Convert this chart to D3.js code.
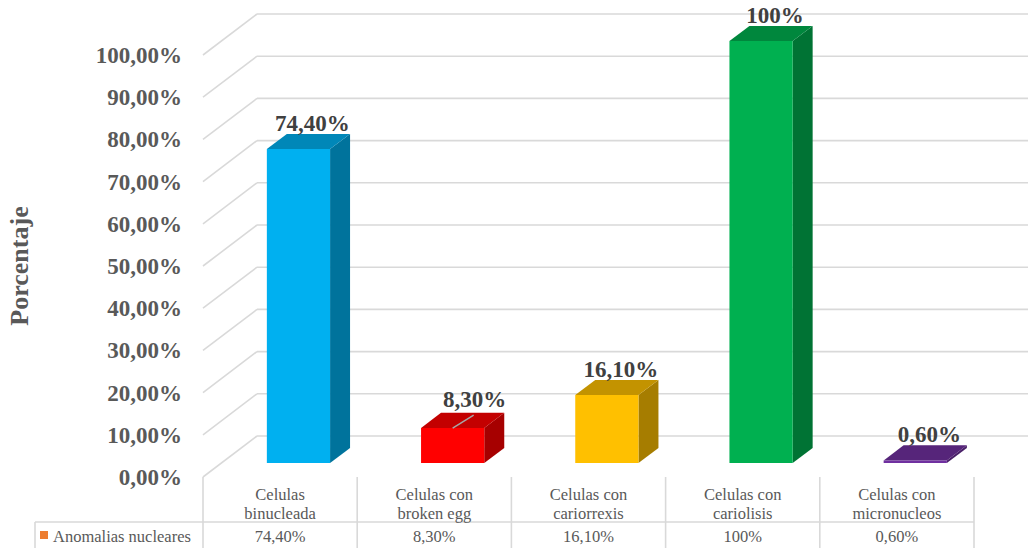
<!DOCTYPE html>
<html>
<head>
<meta charset="utf-8">
<script src="https://cdn.jsdelivr.net/npm/d3@7"></script>
<style>
  html, body { margin: 0; padding: 0; background: #ffffff; }
  svg { display: block; }
  text { font-family: "Liberation Serif", "Times New Roman", serif; }
</style>
</head>
<body>
<svg id="chart" width="1029" height="548"></svg>
<script>
// ---- data ----
const categories = [
  ["Celulas", "binucleada"],
  ["Celulas con", "broken egg"],
  ["Celulas con", "cariorrexis"],
  ["Celulas con", "cariolisis"],
  ["Celulas con", "micronucleos"]
];
const values = [0.744, 0.083, 0.161, 1.0, 0.006];
const valueLabels = ["74,40%", "8,30%", "16,10%", "100%", "0,60%"];
const barColors = ["#00B0F0", "#FF0000", "#FFC000", "#00B050", "#7030A0"];
const seriesName = "Anomalias nucleares";
const seriesColor = "#ED7D31";
const yTicks = [0, 0.1, 0.2, 0.3, 0.4, 0.5, 0.6, 0.7, 0.8, 0.9, 1.0];
const yTitle = "Porcentaje";

// ---- layout ----
const svg = d3.select("#chart");
const x0 = 203, x1 = 974;          // front edge of the floor
const floorY = 477;                // front baseline
const depth = { dx: 54, dy: -41 }; // full depth of the box
const barDepth0 = 0.34, barDepth1 = 0.71;

const esLocale = d3.formatLocale({ decimal: ",", thousands: ".", grouping: [3], currency: ["", " €"] });
const pct = esLocale.format(".2%");

const x = d3.scaleBand()
  .domain(d3.range(categories.length))
  .range([x0, x1])
  .paddingInner(0.59)
  .paddingOuter(0.295);

const h = d3.scaleLinear().domain([0, 1]).range([0, 422]);

// project (px, value, depth fraction) -> screen coords
function P(px, v, t) {
  return [px + depth.dx * t, floorY - h(v) + depth.dy * t];
}

const grid = "#d9d9d9";

// ---- walls: gridlines on back wall and side wall ----
const gl = svg.append("g");
yTicks.forEach(v => {
  const a = P(x0, v, 0), b = P(x0, v, 1), c = P(x1, v, 1);
  gl.append("line").attr("x1", a[0]).attr("y1", a[1]).attr("x2", b[0]).attr("y2", b[1])
    .attr("stroke", grid).attr("stroke-width", 1.6);
  gl.append("line").attr("x1", b[0]).attr("y1", b[1]).attr("x2", c[0]).attr("y2", c[1])
    .attr("stroke", grid).attr("stroke-width", 1.6);
});

// ---- y axis labels ----
svg.append("g").selectAll("text").data(yTicks).join("text")
  .attr("x", 182)
  .attr("y", d => P(x0, d, 0)[1] + 8)
  .attr("text-anchor", "end")
  .attr("font-size", 23)
  .attr("font-weight", "bold")
  .attr("fill", "#595959")
  .text(d => pct(d));

svg.append("text")
  .attr("transform", "translate(28,266) rotate(-90)")
  .attr("text-anchor", "middle")
  .attr("font-size", 26)
  .attr("font-weight", "bold")
  .attr("fill", "#595959")
  .text(yTitle);

// ---- 3D bars ----
const poly = pts => "M" + pts.map(p => p.join(",")).join("L") + "Z";
const bars = svg.append("g");
values.forEach((v, i) => {
  const L = x(i), R = x(i) + x.bandwidth();
  const col = d3.rgb(barColors[i]);
  const top = col.darker(0.75), side = col.darker(1.2);
  // side face
  bars.append("path").attr("d", poly([P(R, 0, barDepth0), P(R, 0, barDepth1), P(R, v, barDepth1), P(R, v, barDepth0)]))
    .attr("fill", side);
  // top face
  bars.append("path").attr("d", poly([P(L, v, barDepth0), P(R, v, barDepth0), P(R, v, barDepth1), P(L, v, barDepth1)]))
    .attr("fill", top);
  // front face
  bars.append("path").attr("d", poly([P(L, 0, barDepth0), P(R, 0, barDepth0), P(R, v, barDepth0), P(L, v, barDepth0)]))
    .attr("fill", col);
});

// ---- data labels ----
const lbl = svg.append("g");
values.forEach((v, i) => {
  const cx = x(i) + x.bandwidth() / 2;
  const back = P(cx, v, barDepth1);
  const front = P(cx, v, barDepth0);
  let lx = front[0] + 14, ly = back[1] - 3;
  if (i === 1) {
    // small bar: label lifted with a leader line
    ly = back[1] - 6;
    lx = front[0] + 22;
    lbl.append("line")
      .attr("x1", front[0]).attr("y1", front[1])
      .attr("x2", front[0] + 21).attr("y2", front[1] - 13)
      .attr("stroke", "#a6a6a6").attr("stroke-width", 1.5);
  }
  lbl.append("text")
    .attr("x", lx).attr("y", ly)
    .attr("text-anchor", "middle")
    .attr("font-size", 23)
    .attr("font-weight", "bold")
    .attr("fill", "#404040")
    .text(valueLabels[i]);
});

// ---- data table ----
const tbl = svg.append("g");
const rowY = 522, tableBottom = 560;
const step = x.step();
d3.range(categories.length + 1).forEach(k => {
  const xx = x0 + k * step;
  tbl.append("line").attr("x1", xx).attr("y1", floorY).attr("x2", xx).attr("y2", tableBottom)
    .attr("stroke", grid).attr("stroke-width", 1.6);
});
tbl.append("line").attr("x1", 35).attr("y1", rowY).attr("x2", x1).attr("y2", rowY)
  .attr("stroke", grid).attr("stroke-width", 1.6);
tbl.append("line").attr("x1", 35).attr("y1", rowY).attr("x2", 35).attr("y2", tableBottom)
  .attr("stroke", grid).attr("stroke-width", 1.6);

categories.forEach((lines, i) => {
  const cx = x0 + (i + 0.5) * step;
  lines.forEach((t, j) => {
    tbl.append("text")
      .attr("x", cx).attr("y", 500 + j * 19)
      .attr("text-anchor", "middle")
      .attr("font-size", 16.5)
      .attr("fill", "#595959")
      .text(t);
  });
  tbl.append("text")
    .attr("x", cx).attr("y", 542)
    .attr("text-anchor", "middle")
    .attr("font-size", 16.5)
    .attr("fill", "#595959")
    .text(valueLabels[i]);
});

tbl.append("rect").attr("x", 40).attr("y", 531).attr("width", 8).attr("height", 8).attr("fill", seriesColor);
tbl.append("text")
  .attr("x", 53).attr("y", 542)
  .attr("font-size", 16.5)
  .attr("fill", "#595959")
  .text(seriesName);
</script>
</body>
</html>
